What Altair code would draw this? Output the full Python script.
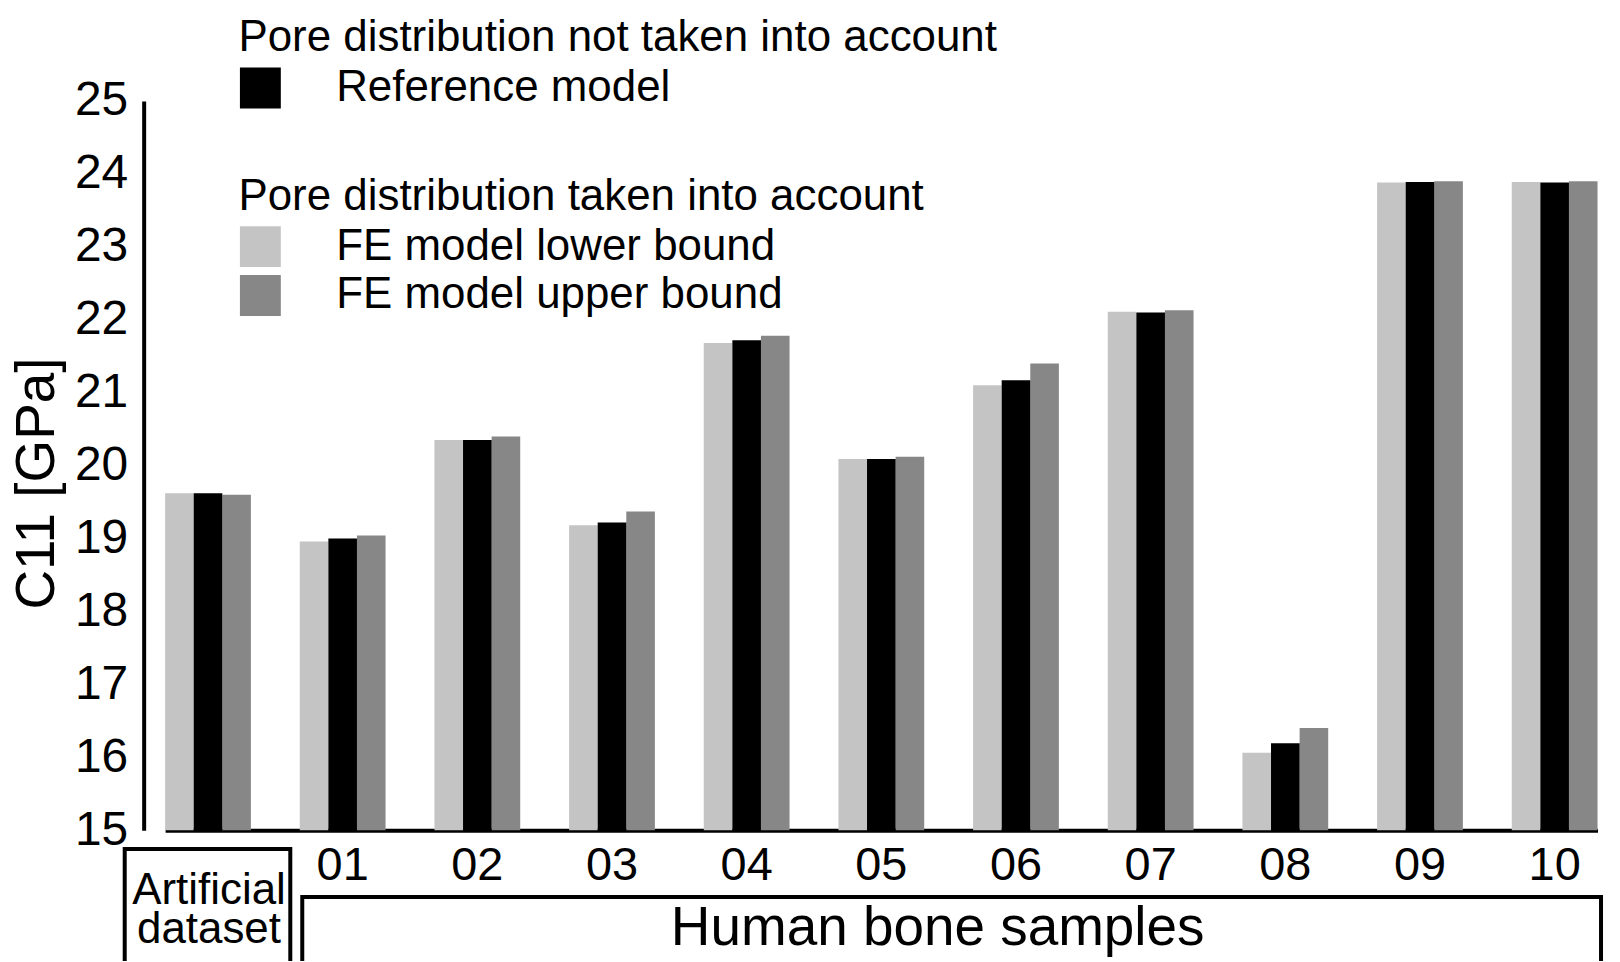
import altair as alt
import pandas as pd

samples = ["Artificial", "01", "02", "03", "04", "05", "06", "07", "08", "09", "10"]
lower = [19.62, 18.96, 20.35, 19.18, 21.68, 20.09, 21.10, 22.11, 16.06, 23.88, 23.89]
reference = [19.62, 19.00, 20.35, 19.22, 21.72, 20.09, 21.17, 22.10, 16.19, 23.89, 23.88]
upper = [19.60, 19.04, 20.40, 19.37, 21.78, 20.12, 21.40, 22.13, 16.40, 23.90, 23.90]

LOW = "FE model lower bound"
REF = "Reference model"
UPP = "FE model upper bound"
models = [LOW, REF, UPP]

rows = []
for i, s in enumerate(samples):
    rows.append({"sample": s, "model": LOW, "value": lower[i]})
    rows.append({"sample": s, "model": REF, "value": reference[i]})
    rows.append({"sample": s, "model": UPP, "value": upper[i]})
df = pd.DataFrame(rows)

FONT = "Liberation Sans"

x_enc = alt.X(
    "sample:N",
    sort=samples,
    scale=alt.Scale(range=[21.5, 1457.5], paddingInner=0.363, paddingOuter=0),
    axis=alt.Axis(
        title=None, ticks=False, grid=False, domainWidth=4, domainColor="black",
        labelFontSize=47, labelFont=FONT, labelColor="black", labelPadding=12,
        labelAngle=0,
        labelExpr="datum.label == 'Artificial' ? '' : datum.label",
    ),
)
xoff_enc = alt.XOffset("model:N", scale=alt.Scale(domain=models, paddingInner=0, paddingOuter=0))
y_enc = alt.Y(
    "value:Q",
    scale=alt.Scale(domain=[15, 25], zero=False, nice=False),
    axis=alt.Axis(
        title="C11 [GPa]", values=list(range(15, 26)), ticks=False, grid=False,
        domainWidth=4, domainColor="black",
        labelFontSize=48, labelFont=FONT, labelColor="black", labelPadding=16,
        titleFontSize=55, titleFont=FONT, titleFontWeight="normal", titleColor="black",
        titleAngle=270, titleX=-90, titleY=383, titleAlign="center", titleBaseline="alphabetic",
    ),
)

legend_common = dict(
    orient="none", titleFontSize=44, titleFontWeight="normal", titleFont=FONT,
    titleColor="black", titleLimit=2000, labelFontSize=44, labelFont=FONT,
    labelColor="black", labelLimit=2000, labelOffset=54, symbolType="square",
    symbolSize=1681, symbolStrokeWidth=0, padding=0, rowPadding=5, titlePadding=6,
)

base = alt.Chart(df)

ref_bars = base.transform_filter(alt.datum.model == REF).mark_bar().encode(
    x=x_enc, xOffset=xoff_enc, y=y_enc, y2=alt.datum(15),
    color=alt.Color(
        "model:N",
        scale=alt.Scale(domain=[REF], range=["#000000"]),
        legend=alt.Legend(title="Pore distribution not taken into account",
                          legendX=95, legendY=-85, **legend_common),
    ),
)

fe_bars = base.transform_filter(alt.datum.model != REF).mark_bar().encode(
    x=x_enc, xOffset=xoff_enc, y=y_enc, y2=alt.datum(15),
    color=alt.Color(
        "model:N",
        scale=alt.Scale(domain=[LOW, UPP], range=["#c4c4c4", "#878787"]),
        legend=alt.Legend(title="Pore distribution taken into account",
                          legendX=95, legendY=74, **legend_common),
    ),
)

one = alt.Chart(pd.DataFrame({"k": [0]}))

box_art = one.mark_rect(fillOpacity=0, stroke="black", strokeWidth=4).encode(
    x=alt.value(-19), x2=alt.value(147), y=alt.value(750), y2=alt.value(900)
)
box_hum = one.mark_rect(fillOpacity=0, stroke="black", strokeWidth=4).encode(
    x=alt.value(159), x2=alt.value(1461), y=alt.value(798), y2=alt.value(900)
)
txt_art = one.mark_text(
    font=FONT, fontSize=44, align="center", baseline="alphabetic", lineHeight=39, color="black"
).encode(x=alt.value(65.5), y=alt.value(805), text=alt.value(["Artificial", "dataset"]))
txt_hum = one.mark_text(
    font=FONT, fontSize=55, align="center", baseline="alphabetic", color="black"
).encode(x=alt.value(796), y=alt.value(846), text=alt.value("Human bone samples"))

chart = (
    alt.layer(fe_bars, ref_bars, box_art, box_hum, txt_art, txt_hum)
    .resolve_scale(color="independent")
    .properties(
        width=1472, height=731,
        autosize=alt.AutoSizeParams(type="none"),
        padding={"left": 136, "top": 92, "right": 0, "bottom": 130},
        view=alt.ViewBackground(stroke="transparent", strokeWidth=0, fill="white"),
    )
    .configure_view(stroke=None, strokeWidth=0)
    .configure_axis(grid=False)
    .configure(font=FONT, background="white")
)

chart.save("out.html", embed_options={"renderer": "svg", "actions": False})
